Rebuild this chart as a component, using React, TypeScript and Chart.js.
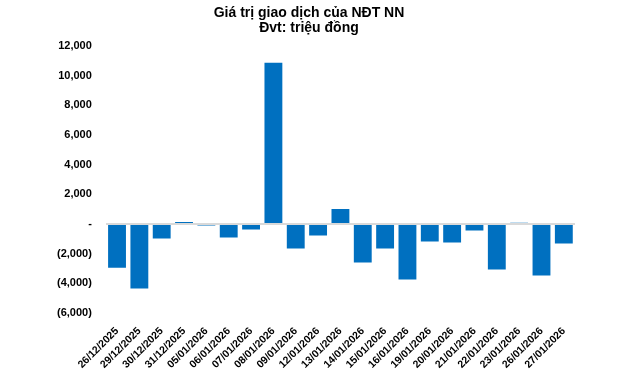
import React, { useEffect, useRef } from "react";
import { Chart, registerables } from "chart.js";

Chart.register(...registerables);

const titleLines = ["Giá trị giao dịch của NĐT NN", "Đvt: triệu đồng"];

const categories = [
  "26/12/2025", "29/12/2025", "30/12/2025", "31/12/2025", "05/01/2026",
  "06/01/2026", "07/01/2026", "08/01/2026", "09/01/2026", "12/01/2026",
  "13/01/2026", "14/01/2026", "15/01/2026", "16/01/2026", "19/01/2026",
  "20/01/2026", "21/01/2026", "22/01/2026", "23/01/2026", "26/01/2026",
  "27/01/2026",
];

const values = [
  -2950, -4360, -990, 130, -110,
  -920, -380, 10860, -1665, -790,
  1010, -2610, -1665, -3755, -1190,
  -1260, -450, -3080, 70, -3485,
  -1325,
];

const yMin = -6000;
const yMax = 12000;
const yStep = 2000;

function fmt(v: number): string {
  if (v === 0) return "-";
  const s = Math.abs(v).toLocaleString("en-US");
  return v < 0 ? `(${s})` : s;
}

export default function App() {
  const ref = useRef<HTMLCanvasElement>(null);
  useEffect(() => {
    if (!ref.current) return;
    const chart = new Chart(ref.current, {
      type: "bar",
      data: {
        labels: categories,
        datasets: [
          {
            data: values,
            backgroundColor: "#0070C0",
            borderWidth: 0,
            categoryPercentage: 1,
            barPercentage: 0.8,
          },
        ],
      },
      options: {
        animation: false,
        responsive: false,
        layout: { padding: { left: 43, right: 65, top: 0, bottom: 1 } },
        plugins: {
          legend: { display: false },
          tooltip: { enabled: false },
          title: {
            display: true,
            text: titleLines,
            color: "#000",
            font: { family: "Liberation Sans", size: 14, weight: "bold", lineHeight: 1.1 },
            padding: { top: 5, bottom: 10 },
          },
        },
        scales: {
          x: {
            grid: { display: false },
            border: { display: false },
            ticks: {
              color: "#000",
              maxRotation: 45,
              minRotation: 45,
              autoSkip: false,
              padding: 4,
              font: { family: "Liberation Sans", size: 10.5, weight: "bold" },
            },
          },
          y: {
            min: yMin,
            max: yMax,
            border: { display: false },
            grid: {
              drawTicks: false,
              color: (ctx: any) => (ctx.tick && ctx.tick.value === 0 ? "#d9d9d9" : "rgba(0,0,0,0)"),
              lineWidth: 2,
            },
            ticks: {
              stepSize: yStep,
              color: "#000",
              padding: 14,
              font: { family: "Liberation Sans", size: 11, weight: "bold" },
              callback: (v: any) => fmt(Number(v)),
            },
          },
        },
      },
    });
    return () => chart.destroy();
  }, []);
  return (
    <div style={{ position: "fixed", left: 0, top: 0, width: 640, height: 376, background: "#fff" }}>
      <canvas ref={ref} width={640} height={376} />
    </div>
  );
}
